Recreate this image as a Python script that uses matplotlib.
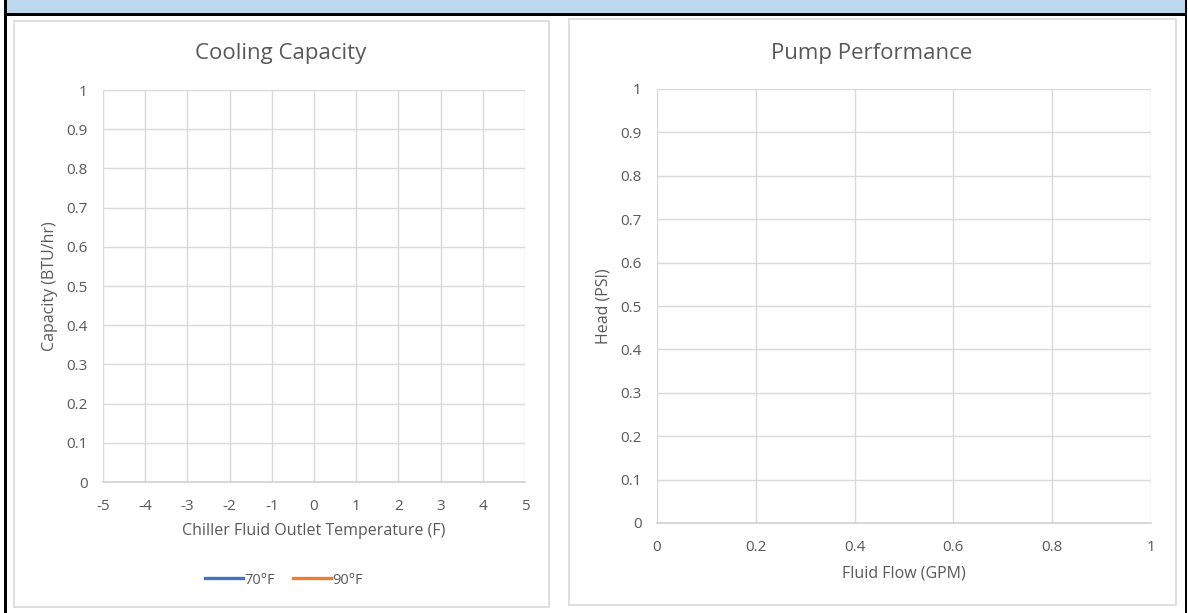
import matplotlib
matplotlib.use("Agg")
import matplotlib.pyplot as plt
from matplotlib.patches import Rectangle

plt.rcParams['font.family'] = ['Open Sans', 'DejaVu Sans']

# Chart data (the charts are empty: series have no points)
cool_x_ticks = [-5, -4, -3, -2, -1, 0, 1, 2, 3, 4, 5]
cool_y_ticks = [0, 0.1, 0.2, 0.3, 0.4, 0.5, 0.6, 0.7, 0.8, 0.9, 1]
series_names = ["70°F", "90°F"]
series_colors = ["#4472C4", "#ED7D31"]
series_x = [[], []]
series_y = [[], []]

pump_x_ticks = [0, 0.2, 0.4, 0.6, 0.8, 1]
pump_y_ticks = [0, 0.1, 0.2, 0.3, 0.4, 0.5, 0.6, 0.7, 0.8, 0.9, 1]

W, H = 1188, 613
TEXT = "#595959"
GRID = "#D9D9D9"


def px_rect(x0, y0, x1, y1):
    """pixel box (top-left origin) -> figure fraction [l, b, w, h]"""
    return [x0 / W, 1 - y1 / H, (x1 - x0) / W, (y1 - y0) / H]


def style_axes(ax, xticks, yticks):
    ax.set_xlim(xticks[0], xticks[-1])
    ax.set_ylim(yticks[0], yticks[-1])
    ax.set_xticks(xticks)
    ax.set_yticks(yticks)
    ax.set_xticklabels([f"{v:g}" for v in xticks])
    ax.set_yticklabels([f"{v:g}" for v in yticks])
    ax.grid(True, color=GRID, linewidth=1)
    ax.set_axisbelow(True)
    for s in ["top", "right", "left"]:
        ax.spines[s].set_visible(False)
    ax.spines["bottom"].set_color("#D0D0D0")
    ax.spines["bottom"].set_linewidth(1.2)
    ax.tick_params(length=0, labelsize=11, labelcolor=TEXT)
    ax.tick_params(axis="y", pad=11)
    ax.tick_params(axis="x", pad=12.5)


def place_labels(ax, box, xlab, ylab, xlab_y, ylab_x):
    x0, y0, x1, y1 = box
    ax.set_xlabel(xlab, fontsize=11.5, color=TEXT, va="center")
    ax.set_ylabel(ylab, fontsize=11.5, color=TEXT, va="center")
    ax.xaxis.set_label_coords(0.5, -(xlab_y - y1) / (y1 - y0))
    ax.yaxis.set_label_coords(-(x0 - ylab_x) / (x1 - x0), 0.5)


fig = plt.figure(figsize=(W / 100, H / 100), dpi=100)

# header band and outer frame
fig.patches.append(Rectangle((7 / W, 1 - 13 / H), 1178 / W, 13 / H,
                             transform=fig.transFigure, facecolor="#BDD7EE",
                             edgecolor="none", zorder=0))
fig.patches.append(Rectangle((4 / W, 1 - 16 / H), 1183 / W, 3 / H,
                             transform=fig.transFigure, facecolor="black",
                             edgecolor="none", zorder=1))
fig.patches.append(Rectangle((4 / W, 0), 3 / W, 1,
                             transform=fig.transFigure, facecolor="black",
                             edgecolor="none", zorder=1))
fig.patches.append(Rectangle((1185 / W, 0), 2 / W, 1,
                             transform=fig.transFigure, facecolor="black",
                             edgecolor="none", zorder=1))

# chart area borders
for x0, y0, x1, y1 in [(14, 21, 549, 607), (569, 19, 1176, 605)]:
    l, b, w, h = px_rect(x0, y0, x1, y1)
    fig.patches.append(Rectangle((l, b), w, h, transform=fig.transFigure,
                                 facecolor="none", edgecolor=GRID,
                                 linewidth=1.2, zorder=1))

# Cooling capacity
box1 = (103, 90, 525, 482)
ax1 = fig.add_axes(px_rect(*box1))
for name, col, xs, ys in zip(series_names, series_colors, series_x, series_y):
    ax1.plot(xs, ys, color=col, linewidth=2.4, label=name)
style_axes(ax1, cool_x_ticks, cool_y_ticks)
place_labels(ax1, box1, "Chiller Fluid Outlet Temperature (F)",
             "Capacity (BTU/hr)", 531, 50)
fig.text(281 / W, 1 - 53 / H, "Cooling Capacity", fontsize=16, color=TEXT,
         ha="center", va="center")
fig.legend(*ax1.get_legend_handles_labels(), loc="center",
           bbox_to_anchor=(284 / W, 1 - 580 / H), ncol=2, frameon=False,
           fontsize=10.5, handlelength=2.6, handletextpad=0.1,
           columnspacing=1.2, labelcolor=TEXT)

# Pump performance
box2 = (657, 89, 1151, 523)
ax2 = fig.add_axes(px_rect(*box2))
style_axes(ax2, pump_x_ticks, pump_y_ticks)
place_labels(ax2, box2, "Fluid Flow (GPM)", "Head (PSI)", 573, 603)
fig.text(872 / W, 1 - 53 / H, "Pump Performance", fontsize=16, color=TEXT,
         ha="center", va="center")

fig.savefig("out.png", dpi=100)
